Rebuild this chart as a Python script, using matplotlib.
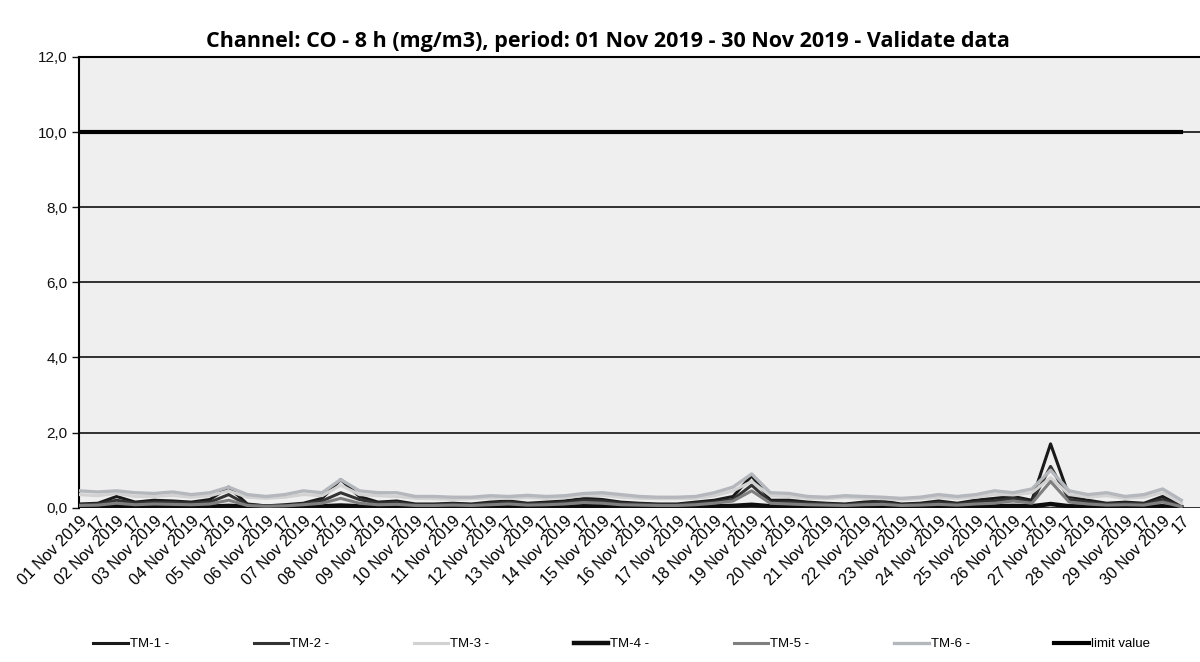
import matplotlib
matplotlib.use("Agg")
import matplotlib.pyplot as plt
from matplotlib.ticker import FuncFormatter

# two readings per day: 00h and 17h
days = ["%02d Nov 2019" % d for d in range(1, 31)]
tick_labels = []
for d in days:
    tick_labels += [d, "17"]

tm1 = [0.10, 0.12, 0.30, 0.15, 0.20, 0.18, 0.15, 0.22, 0.55, 0.10,
       0.05, 0.08, 0.12, 0.25, 0.75, 0.30, 0.15, 0.18, 0.10, 0.10,
       0.12, 0.10, 0.15, 0.18, 0.12, 0.15, 0.18, 0.25, 0.22, 0.15,
       0.12, 0.10, 0.10, 0.15, 0.20, 0.30, 0.85, 0.20, 0.20, 0.15,
       0.12, 0.10, 0.15, 0.18, 0.10, 0.12, 0.18, 0.12, 0.20, 0.25,
       0.30, 0.20, 1.70, 0.30, 0.20, 0.12, 0.15, 0.12, 0.30, 0.05]
tm2 = [0.08, 0.10, 0.20, 0.12, 0.15, 0.14, 0.12, 0.15, 0.35, 0.08,
       0.05, 0.06, 0.10, 0.18, 0.40, 0.22, 0.12, 0.14, 0.08, 0.08,
       0.10, 0.08, 0.12, 0.15, 0.10, 0.12, 0.14, 0.20, 0.18, 0.12,
       0.10, 0.08, 0.08, 0.12, 0.15, 0.22, 0.60, 0.15, 0.15, 0.12,
       0.10, 0.08, 0.12, 0.14, 0.08, 0.10, 0.14, 0.10, 0.15, 0.18,
       0.25, 0.15, 1.10, 0.22, 0.15, 0.10, 0.12, 0.10, 0.22, 0.04]
tm3 = [0.35, 0.32, 0.38, 0.30, 0.30, 0.33, 0.28, 0.32, 0.45, 0.28,
       0.25, 0.28, 0.35, 0.32, 0.60, 0.35, 0.32, 0.30, 0.25, 0.24,
       0.22, 0.24, 0.26, 0.25, 0.27, 0.25, 0.27, 0.32, 0.33, 0.28,
       0.25, 0.24, 0.24, 0.25, 0.32, 0.45, 0.70, 0.32, 0.30, 0.25,
       0.24, 0.27, 0.25, 0.24, 0.21, 0.24, 0.28, 0.25, 0.28, 0.36,
       0.34, 0.40, 0.80, 0.35, 0.28, 0.32, 0.25, 0.28, 0.40, 0.12]
tm4 = [0.03, 0.03, 0.04, 0.03, 0.03, 0.04, 0.03, 0.03, 0.05, 0.03,
       0.02, 0.02, 0.03, 0.04, 0.06, 0.04, 0.03, 0.03, 0.02, 0.02,
       0.03, 0.02, 0.03, 0.03, 0.03, 0.03, 0.03, 0.04, 0.04, 0.03,
       0.03, 0.02, 0.02, 0.03, 0.04, 0.05, 0.08, 0.04, 0.03, 0.03,
       0.02, 0.02, 0.03, 0.03, 0.02, 0.02, 0.03, 0.03, 0.03, 0.04,
       0.05, 0.04, 0.10, 0.04, 0.03, 0.03, 0.03, 0.03, 0.04, 0.01]
tm5 = [0.06, 0.07, 0.12, 0.08, 0.10, 0.09, 0.08, 0.10, 0.20, 0.06,
       0.04, 0.05, 0.08, 0.12, 0.25, 0.12, 0.08, 0.09, 0.06, 0.06,
       0.07, 0.06, 0.08, 0.10, 0.07, 0.08, 0.10, 0.14, 0.12, 0.08,
       0.07, 0.06, 0.06, 0.08, 0.12, 0.18, 0.45, 0.12, 0.10, 0.08,
       0.07, 0.06, 0.08, 0.09, 0.06, 0.07, 0.09, 0.07, 0.10, 0.12,
       0.18, 0.12, 0.70, 0.15, 0.10, 0.07, 0.08, 0.07, 0.15, 0.03]
tm6 = [0.45, 0.42, 0.45, 0.40, 0.38, 0.42, 0.35, 0.40, 0.55, 0.35,
       0.30, 0.35, 0.45, 0.40, 0.75, 0.45, 0.40, 0.40, 0.30, 0.30,
       0.28, 0.28, 0.32, 0.30, 0.33, 0.30, 0.32, 0.38, 0.40, 0.35,
       0.30, 0.28, 0.28, 0.30, 0.40, 0.55, 0.90, 0.40, 0.38, 0.30,
       0.28, 0.32, 0.30, 0.28, 0.25, 0.28, 0.35, 0.30, 0.35, 0.45,
       0.40, 0.50, 1.00, 0.45, 0.35, 0.40, 0.30, 0.35, 0.50, 0.20]
limit_value = 10.0

series = [("TM-1 -", tm1, "#1a1a1a", 2.2), ("TM-2 -", tm2, "#333333", 2.2),
          ("TM-3 -", tm3, "#d2d2d2", 2.2), ("TM-4 -", tm4, "#0d0d0d", 3.2),
          ("TM-5 -", tm5, "#7f7f7f", 2.2), ("TM-6 -", tm6, "#b4b8bd", 2.4)]

plt.rcParams['font.family'] = ['Liberation Sans', 'DejaVu Sans']

fig = plt.figure(figsize=(12, 6.62), dpi=100)
ax = fig.add_axes([0.066, 0.233, 0.934, 0.681])
ax.set_facecolor("#efefef")

x = list(range(len(tick_labels)))
for name, vals, col, w in series:
    ax.plot(x, vals, color=col, lw=w, label=name, zorder=3)
ax.plot(x, [limit_value] * len(x), color="black", lw=3, label="limit value", zorder=4)

ax.set_ylim(0, 12)
ax.set_yticks([0, 2, 4, 6, 8, 10, 12])
ax.yaxis.set_major_formatter(FuncFormatter(lambda v, p: ("%.1f" % v).replace(".", ",")))
ax.grid(axis="y", color="#222222", lw=1.3)
ax.set_axisbelow(True)

ax.set_xlim(0, 60)
ax.set_xticks(x)
ax.set_xticklabels(tick_labels, rotation=45, ha="right", rotation_mode="anchor")
ax.tick_params(axis="x", length=0, labelsize=11.5, pad=4, colors="#000000")
ax.tick_params(axis="y", length=5, width=1, labelsize=11, colors="#111111")

for side in ["right", "bottom"]:
    ax.spines[side].set_visible(False)
ax.spines["left"].set_linewidth(1.5)
ax.spines["top"].set_linewidth(1.5)

fig.text(0.507, 0.937, "Channel: CO - 8 h (mg/m3), period: 01 Nov 2019 - 30 Nov 2019 - Validate data",
         ha="center", va="center", fontsize=15.5, fontweight="bold", family="Open Sans")

fig.legend(loc="lower left", bbox_to_anchor=(0.068, 0.0, 0.9, 0.05), ncol=7, mode="expand",
           frameon=False, fontsize=9.5, handlelength=2.6, handletextpad=0.15)

fig.savefig("out.png", dpi=100)
